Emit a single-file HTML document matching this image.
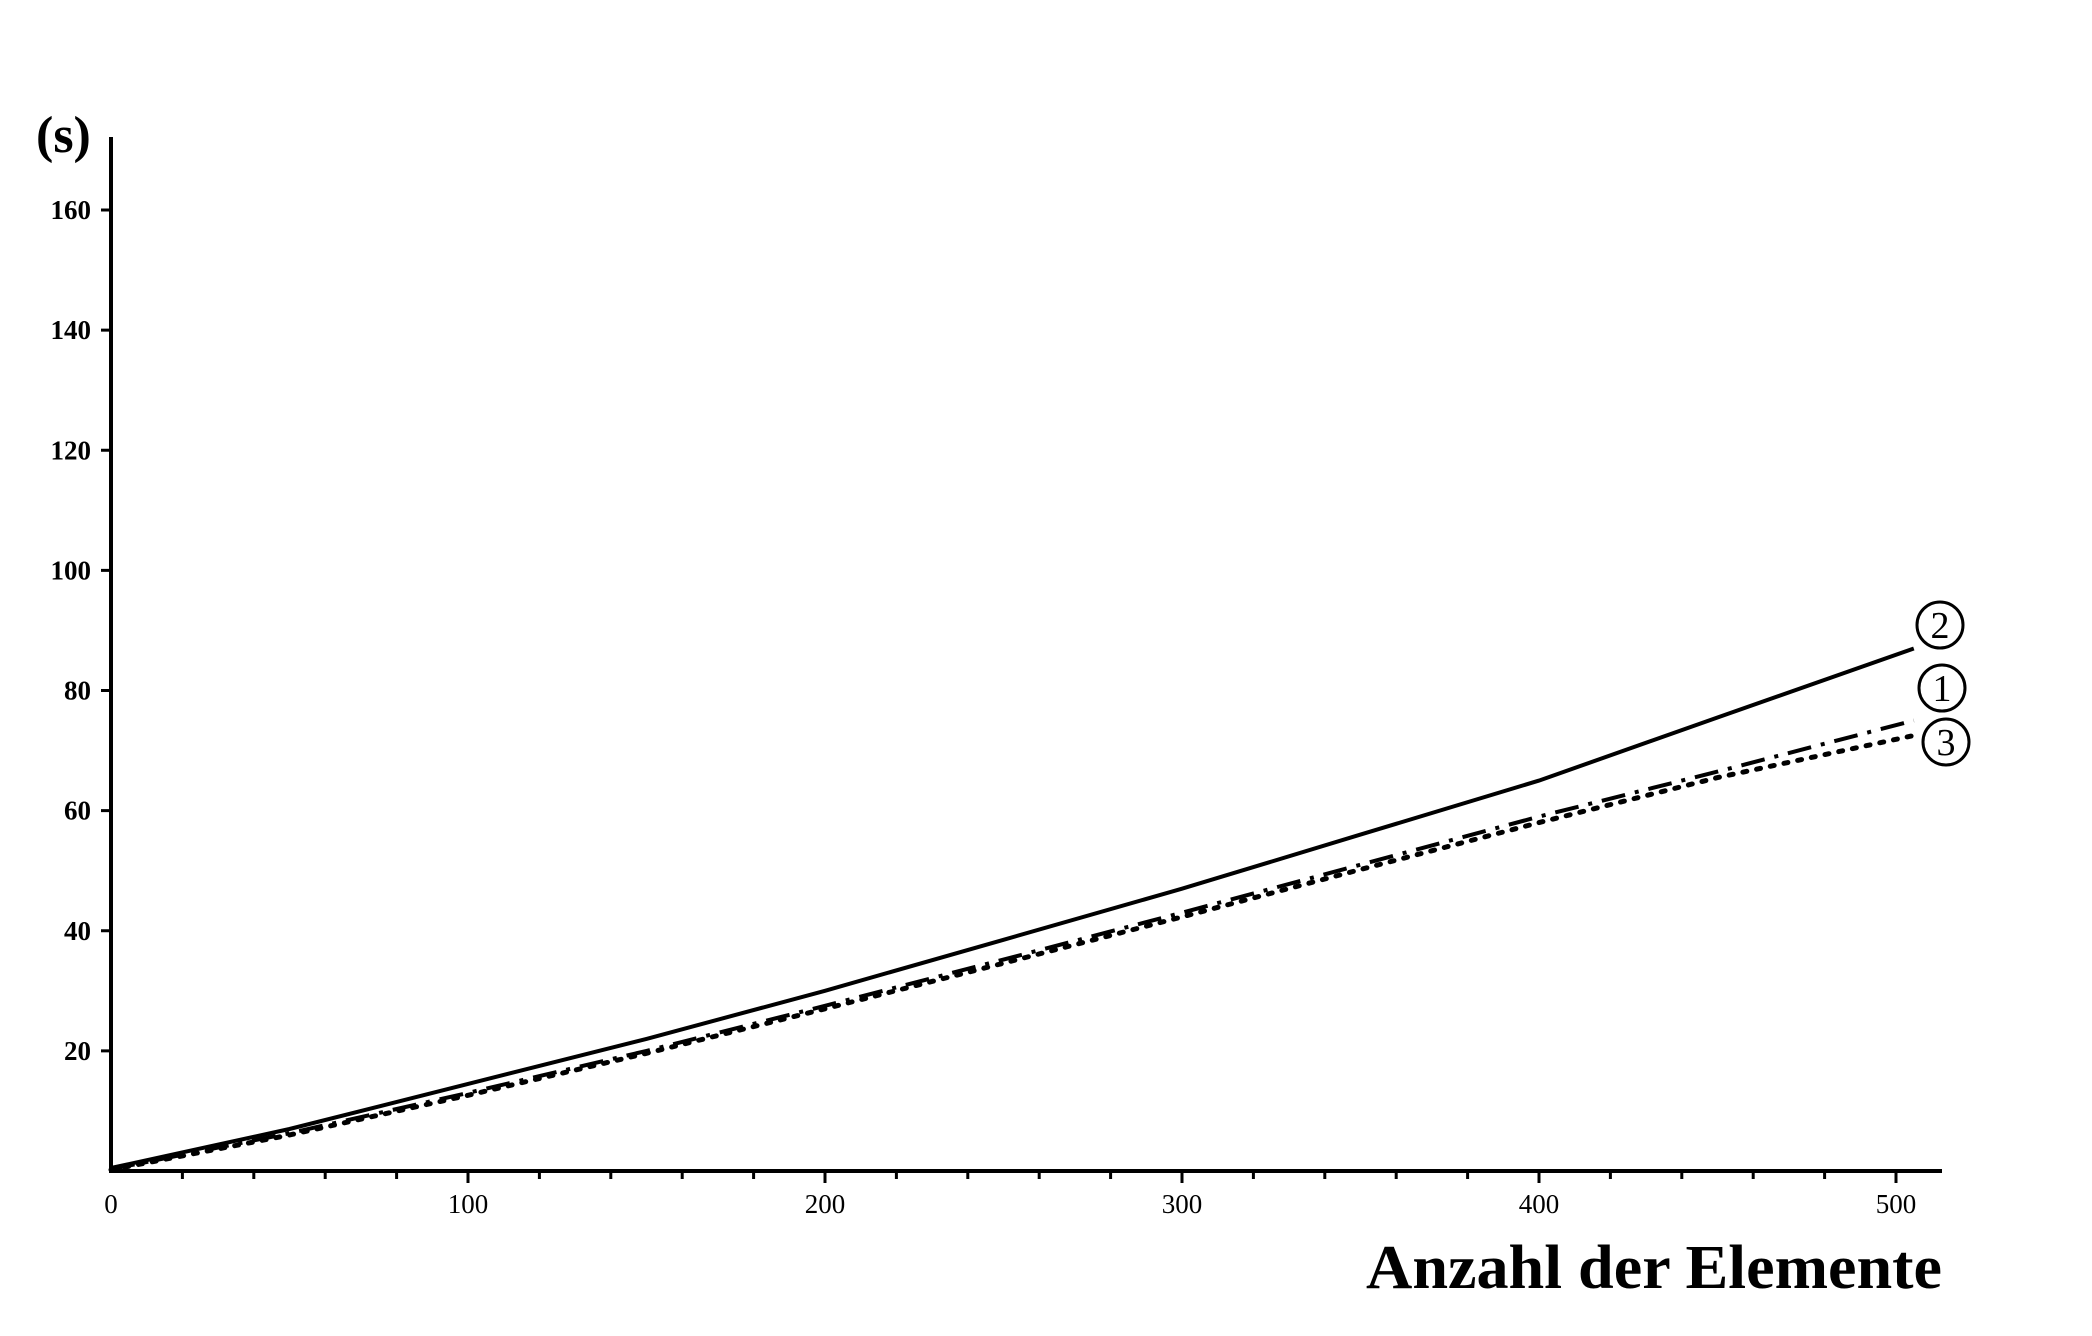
<!DOCTYPE html>
<html><head><meta charset="utf-8"><style>
html,body{margin:0;padding:0;background:#fff}
svg{display:block}
text{font-family:"Liberation Serif",serif;fill:#000}
</style></head><body>
<svg id="chart" width="2092" height="1336" viewBox="0 0 2092 1336">
<g id="axes"></g>
<g id="series"></g>
<g id="labels"></g>
</svg>
<script>
const xTicks = [0, 100, 200, 300, 400, 500];
const yTicks = [20, 40, 60, 80, 100, 120, 140, 160];
const xs = [0, 50, 100, 150, 200, 250, 300, 350, 400, 450, 505];
const series2 = [0.5, 7, 14.5, 22, 30, 38.5, 47, 56, 65, 75.5, 87];
const series1 = [0.3, 6.3, 13, 20, 27.5, 35.2, 43, 51, 59, 66.5, 75];
const series3 = [0.2, 6, 12.6, 19.6, 27, 34.6, 42.3, 50.2, 58, 65.5, 72.5];
const seriesNames = ['2', '1', '3'];

const X0 = 111, X1 = 1896, Y0 = 1171, Y1 = 210;
const sx = v => X0 + (X1 - X0) * v / 500;
const sy = v => Y0 - (Y0 - Y1) * v / 160;
const NS = 'http://www.w3.org/2000/svg';
function mk(tag, attrs, parent, txt) {
  const e = document.createElementNS(NS, tag);
  for (const k in attrs) e.setAttribute(k, attrs[k]);
  if (txt !== undefined) e.textContent = txt;
  parent.appendChild(e);
  return e;
}
const axes = document.getElementById('axes');
const ser = document.getElementById('series');
const lab = document.getElementById('labels');

let el = mk('line', {x1: X0, y1: 137, x2: X0, y2: Y0 + 2, stroke: '#000', 'stroke-width': 4}, axes);


el = mk('line', {x1: X0 - 2, y1: Y0, x2: 1942, y2: Y0, stroke: '#000', 'stroke-width': 4}, axes);



yTicks.forEach(t => {
  const y = sy(t);
  const tk = mk('line', {x1: X0 - 10, y1: y, x2: X0, y2: y, stroke: '#000', 'stroke-width': 3}, axes);
  
  
  const tl = mk('text', {x: X0 - 20, y: y + 9, 'text-anchor': 'end', 'font-size': 27, 'font-weight': 'bold'}, axes, t);
  
  
});
for (let v = 20; v <= 500; v += 20) {
  const x = sx(v);
  const major = v % 100 === 0;
  const tk = mk('line', {x1: x, y1: Y0, x2: x, y2: Y0 + (major ? 12 : 8), stroke: '#000', 'stroke-width': 3}, axes);
  
  
}
xTicks.forEach(t => {
  const tl = mk('text', {x: sx(t), y: Y0 + 42, 'text-anchor': 'middle', 'font-size': 27}, axes, t);
  
  
});
el = mk('text', {x: 36, y: 152, 'font-size': 52, 'font-weight': 'bold'}, axes, '(s)');


el = mk('text', {x: 1942, y: 1288, 'text-anchor': 'end', 'font-size': 62, 'font-weight': 'bold', textLength: 576, lengthAdjust: 'spacingAndGlyphs'}, axes, 'Anzahl der Elemente');



function path(vals) {
  return vals.map((v, i) => (i ? 'L' : 'M') + sx(xs[i]).toFixed(1) + ',' + sy(v).toFixed(1)).join(' ');
}
el = mk('path', {d: path(series2), fill: 'none', stroke: '#000', 'stroke-width': 4}, ser);


el = mk('path', {d: path(series1), fill: 'none', stroke: '#000', 'stroke-width': 4, 'stroke-dasharray': '24 10 4 10'}, ser);


el = mk('path', {d: path(series3), fill: 'none', stroke: '#000', 'stroke-width': 5, 'stroke-dasharray': '4 10', 'stroke-linecap': 'round'}, ser);



const labelPos = [[1940, 625], [1942, 688], [1946, 742]];
labelPos.forEach((p, i) => {
  const c = mk('circle', {cx: p[0], cy: p[1], r: 23, fill: 'none', stroke: '#000', 'stroke-width': 3}, lab);
  
  
  const t = mk('text', {x: p[0], y: p[1] + 13, 'text-anchor': 'middle', 'font-size': 38, 'font-family': 'Liberation Sans, sans-serif'}, lab, seriesNames[i]);
  
  
});
</script>
</body></html>
